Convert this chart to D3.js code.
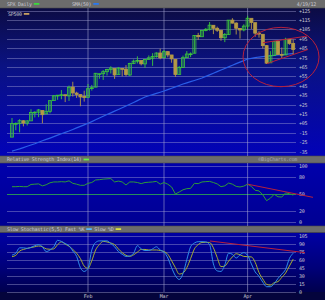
<!DOCTYPE html>
<meta charset="utf-8">
<style>
body { margin: 0; background: #03033a; }
svg { display: block; }
.txt { font-family: "DejaVu Sans Mono", monospace; font-size: 5px; fill: #c8c8d2; letter-spacing: -0.25px; }
.grid path { display: none; }
.grid line { stroke: #a0a0d4; stroke-opacity: 0.55; stroke-width: 0.8; shape-rendering: crispEdges; }
.grid text { font-family: "DejaVu Sans Mono", monospace; font-size: 5px; fill: #c8c8d2; letter-spacing: -0.25px; }
.bar { fill: #6c6c6c; stroke: #4a4a4a; stroke-width: 0.6; }
.anno { fill: none; stroke: #b8203c; stroke-width: 1; }
</style>
<body>
<div id="plotHere"></div>
<script src="https://cdn.jsdelivr.net/npm/d3@7"></script>
<script>
//------------------------ DATA ------------------------//
const dates = [
  "2012-01-03","2012-01-04","2012-01-05","2012-01-06","2012-01-09","2012-01-10","2012-01-11","2012-01-12","2012-01-13","2012-01-17",
  "2012-01-18","2012-01-19","2012-01-20","2012-01-23","2012-01-24","2012-01-25","2012-01-26","2012-01-27","2012-01-30","2012-01-31",
  "2012-02-01","2012-02-02","2012-02-03","2012-02-06","2012-02-07","2012-02-08","2012-02-09","2012-02-10","2012-02-13","2012-02-14",
  "2012-02-15","2012-02-16","2012-02-17","2012-02-21","2012-02-22","2012-02-23","2012-02-24","2012-02-27","2012-02-28","2012-02-29",
  "2012-03-01","2012-03-02","2012-03-05","2012-03-06","2012-03-07","2012-03-08","2012-03-09","2012-03-12","2012-03-13","2012-03-14",
  "2012-03-15","2012-03-16","2012-03-19","2012-03-20","2012-03-21","2012-03-22","2012-03-23","2012-03-26","2012-03-27","2012-03-28",
  "2012-03-29","2012-03-30","2012-04-02","2012-04-03","2012-04-04","2012-04-05","2012-04-09","2012-04-10","2012-04-11","2012-04-12",
  "2012-04-13","2012-04-16","2012-04-17","2012-04-18","2012-04-19"];

const opens = [
  1258.86,1277.03,1277.30,1280.93,1277.83,1280.77,1292.02,1292.48,1294.82,1290.22,
  1293.65,1308.07,1314.49,1315.29,1315.96,1314.40,1326.28,1318.25,1316.16,1313.53,
  1312.45,1324.24,1326.21,1344.32,1344.33,1347.04,1349.97,1351.21,1343.06,1351.30,
  1350.52,1342.61,1358.06,1361.22,1362.11,1357.53,1363.46,1365.20,1367.56,1372.20,
  1365.90,1374.09,1369.59,1363.63,1343.39,1352.65,1365.97,1370.78,1371.92,1395.95,
  1394.17,1402.55,1404.17,1409.59,1405.52,1402.89,1392.78,1397.11,1416.55,1412.52,
  1405.39,1403.31,1408.47,1418.98,1413.09,1398.79,1397.45,1382.18,1358.98,1368.77,
  1387.61,1370.27,1369.57,1390.78,1385.08];
const highs = [
  1284.62,1278.73,1283.05,1281.84,1281.99,1296.46,1293.80,1296.82,1294.82,1303.00,
  1308.11,1315.49,1315.38,1322.28,1315.96,1328.30,1333.47,1320.06,1316.16,1321.41,
  1330.52,1329.19,1345.34,1344.36,1349.24,1351.00,1354.32,1351.21,1353.35,1351.30,
  1355.87,1359.02,1363.40,1367.76,1362.70,1364.24,1368.92,1371.94,1373.09,1378.04,
  1376.17,1374.53,1369.59,1363.63,1354.85,1368.72,1374.76,1373.04,1396.13,1399.42,
  1402.63,1405.88,1414.00,1409.59,1407.75,1402.89,1399.18,1416.58,1419.15,1413.65,
  1405.39,1410.89,1422.38,1419.00,1413.09,1401.60,1397.45,1383.01,1374.71,1388.13,
  1387.61,1379.66,1392.76,1390.78,1390.46];
const lows = [
  1258.86,1268.10,1265.26,1273.34,1274.55,1280.77,1285.41,1285.77,1277.58,1290.22,
  1290.99,1308.07,1309.17,1309.89,1306.06,1307.65,1313.60,1311.72,1300.49,1306.69,
  1312.45,1321.57,1326.21,1337.52,1335.92,1341.95,1344.63,1337.35,1343.06,1340.83,
  1340.80,1341.22,1357.24,1358.11,1355.53,1352.28,1363.46,1354.92,1365.97,1363.81,
  1365.90,1366.42,1359.13,1340.03,1343.39,1352.65,1365.97,1366.69,1371.92,1389.97,
  1394.17,1401.47,1402.43,1397.68,1400.64,1388.73,1386.87,1397.11,1411.95,1397.20,
  1391.56,1401.42,1404.46,1404.62,1394.09,1392.92,1378.24,1357.38,1358.98,1368.77,
  1369.85,1365.38,1369.57,1383.29,1370.30];
const closes = [
  1277.06,1277.30,1281.06,1277.81,1280.70,1292.08,1292.48,1295.50,1289.09,1293.67,
  1308.04,1314.50,1315.38,1316.00,1314.65,1326.06,1318.43,1316.33,1313.01,1312.41,
  1324.09,1325.54,1344.90,1344.33,1347.05,1349.96,1351.95,1342.64,1351.77,1350.50,
  1343.23,1358.04,1361.23,1362.21,1357.66,1363.46,1365.74,1367.59,1372.18,1365.68,
  1374.09,1369.63,1364.33,1343.36,1352.63,1365.91,1370.87,1371.09,1395.95,1394.28,
  1402.60,1404.17,1409.75,1405.52,1402.89,1392.78,1397.11,1416.51,1412.52,1405.54,
  1403.28,1408.47,1419.04,1413.38,1398.96,1398.08,1382.20,1358.59,1368.71,1387.57,
  1370.26,1369.57,1390.78,1385.14,1376.92];

// 50 day moving average (blue)
const sma50 = [
  1240,1241.5,1243,1244.8,1246.5,1248.2,1250,1252,1254,1255.8,
  1257.6,1259.5,1261.5,1263.4,1265.2,1267.1,1269.2,1271.3,1273.4,1275.4,
  1277.5,1279.8,1282.2,1284.6,1287,1289.3,1291.6,1293.9,1296.2,1298.5,
  1300.8,1303.2,1305.6,1308.1,1310.5,1312.9,1314.6,1316.2,1317.8,1319.4,
  1321,1322.9,1324.8,1326.6,1328.5,1330.4,1332,1333.6,1335.2,1336.9,
  1338.5,1340.7,1342.8,1345,1347.1,1349.3,1351.4,1353.6,1355.7,1357.9,
  1360,1362,1364.1,1365,1365.9,1366.8,1367.3,1367.9,1368.4,1369,
  1369.5,1370,1370.5,1371,1371.5];

const rsi = [
  62.5,62.5,63,62.5,62.5,66.5,67,67.5,64,66,
  69.5,71,71,71.5,71,73,68.5,67,65,65,
  68.5,70,74.5,75,76,76.5,77,71,72.5,71,
  65.5,71,71,70,68,70,70.5,71,72,67,
  70,67,62,49.5,53,57,59,59.5,68.5,68,
  71,71.5,72,70,67.5,62.5,64,69,67,63,
  62,63.5,67,63,56,55,48,37.5,42,49,
  44.5,44,51.5,50,47.5];

const stochK = [
  68.5,72,82,82,81,83,86,88,84,75,
  78,84,96,94,90,86,76,66,45,38,
  44,78,92,95,95,95,90,84,75,70,
  66,67,72,86,80,77,77,80,84,78,
  74,63,45,30,23,34,60,84,91,93.5,
  93.5,93,88,52,39,38,50,72,70,63,
  69,73,68,52,37,29,18,9.5,9.5,15,
  25,33,42,62,72];
const stochD = [
  65.5,68,76,79,81,82.5,84,85.4,84,80,
  79.3,80,88,93,89,85,79,72,62,48,
  43.8,58,78,88,94,93,91,88,80,73,
  68,66,69,74,79,79,78,78,78,77,
  75,70,58,45,33,35,45,62,80,88,
  92,92.4,92,82,64,47,48,57,65,71,
  69,66,65.5,65,55,36,24,14,12.5,17,
  19,27,35,48,61];

const priceLabels = ["+125","+115","+105","+95","+85","+75","+65","+55",
                     "+45","+35","+25","+15","+05","-15","-25","-35"];
const rsiTicks = [0, 20, 50, 80, 100];
const stochTicks = [0, 15, 30, 45, 60, 75, 90, 105];
const monthDates = ["2012-02-01", "2012-03-01", "2012-04-02"];
const monthLabels = ["Feb", "Mar", "Apr"];

// hand drawn annotations, in (day index, value)
const priceUpper = [[66.0, 1386], [77.6, 1395]];
const priceLower = [[67.1, 1358], [77.9, 1377]];
const rsiTrend = [[62, 67], [79.2, 43.5]];
const stochTrend = [[52.1, 94.8], [77.1, 73]];

//------------------------ SETUP ------------------------//
const width = 325, height = 300;
const plotL = 7, plotR = 296;

const svg = d3.select("#plotHere").append("svg")
    .attr("width", width)
    .attr("height", height);

const defs = svg.append("defs");
function grad(id, stops) {
  const g = defs.append("linearGradient").attr("id", id)
      .attr("x1", 0).attr("y1", 0).attr("x2", 0).attr("y2", 1);
  stops.forEach(s => g.append("stop").attr("offset", s[0]).attr("stop-color", s[1]));
}
grad("gMain", [[0, "#0c0c44"], [0.4, "#0a1284"], [1, "#0202b8"]]);
grad("gRsi", [[0, "#0000ac"], [1, "#000092"]]);
grad("gSto", [[0, "#0000a4"], [0.6, "#000078"], [1, "#00004c"]]);

// scales
const x = d3.scaleLinear().domain([0, dates.length - 1]).range([12, 293.2]);
const y = d3.scaleLinear().domain([1239.5, 1429.5]).range([151.5, 10.5]);
const yGrid = d3.scalePoint().domain(priceLabels).range([10.5, 151.5]);
const yRsi = d3.scaleLinear().domain([0, 100]).range([221.7, 165.7]);
const ySto = d3.scaleLinear().domain([0, 105]).range([291.8, 235.5]);
const monthIdx = monthDates.map(d => dates.indexOf(d));

//------------------------ BACKGROUNDS ------------------------//
svg.append("rect").attr("x", 0).attr("y", 8).attr("width", width).attr("height", 148).attr("fill", "url(#gMain)");
svg.append("rect").attr("x", 0).attr("y", 163).attr("width", width).attr("height", 63).attr("fill", "url(#gRsi)");
svg.append("rect").attr("x", 0).attr("y", 232.5).attr("width", width).attr("height", 60).attr("fill", "url(#gSto)");
svg.append("rect").attr("x", 0).attr("y", 292).attr("width", width).attr("height", 8).attr("fill", "#04043c");

svg.append("rect").attr("class", "bar").attr("x", -1).attr("y", -1).attr("width", width + 2).attr("height", 9);
svg.append("rect").attr("class", "bar").attr("x", -1).attr("y", 156).attr("width", width + 2).attr("height", 7);
svg.append("rect").attr("class", "bar").attr("x", -1).attr("y", 226).attr("width", width + 2).attr("height", 6.5);

//------------------------ GRIDS / AXES ------------------------//
svg.append("g").attr("class", "grid")
    .attr("transform", "translate(" + plotL + ",0)")
    .call(d3.axisRight(yGrid).tickSize(plotR - plotL).tickPadding(3));

svg.append("g").attr("class", "grid")
    .attr("transform", "translate(" + plotL + ",0)")
    .call(d3.axisRight(yRsi).tickValues(rsiTicks).tickSize(plotR - plotL).tickPadding(3))
    .selectAll("line").filter(d => d === 50)
    .style("stroke", "#2fb04a").style("stroke-opacity", 1);

svg.append("g").attr("class", "grid")
    .attr("transform", "translate(" + plotL + ",0)")
    .call(d3.axisRight(ySto).tickValues(stochTicks).tickSize(plotR - plotL).tickPadding(3));

// month lines
[[8, 156], [163, 226], [232.5, 292]].forEach(r => {
  svg.append("g").selectAll("line").data(monthIdx).join("line")
      .attr("x1", d => x(d)).attr("x2", d => x(d))
      .attr("y1", r[0]).attr("y2", r[1])
      .attr("stroke", "#a8a8d0").attr("stroke-opacity", 0.7).attr("stroke-width", 0.8);
});
svg.append("g").selectAll("text").data(monthIdx).join("text")
    .attr("class", "txt")
    .attr("x", d => x(d)).attr("y", 298)
    .attr("text-anchor", "middle")
    .text((d, i) => monthLabels[i]);

//------------------------ PRICE ------------------------//
svg.append("path").datum(sma50)
    .attr("fill", "none").attr("stroke", "#2a5ee8").attr("stroke-width", 1.2)
    .attr("d", d3.line().x((d, i) => x(i)).y(d => y(d)));

const candles = svg.append("g").selectAll("g").data(d3.range(dates.length)).join("g");
const col = i => closes[i] >= opens[i] ? "#3cc83c" : "#b49a46";
candles.append("line")
    .attr("x1", i => x(i)).attr("x2", i => x(i))
    .attr("y1", i => y(highs[i])).attr("y2", i => y(lows[i]))
    .attr("stroke", col).attr("stroke-width", 0.9);
candles.append("rect")
    .attr("x", i => x(i) - 1.5).attr("width", 3)
    .attr("y", i => y(Math.max(opens[i], closes[i])))
    .attr("height", i => Math.max(0.8, Math.abs(y(opens[i]) - y(closes[i]))))
    .attr("fill", i => closes[i] >= opens[i] ? "none" : "#b49a46")
    .attr("stroke", col).attr("stroke-width", 0.8);

//------------------------ RSI ------------------------//
svg.append("path").datum(rsi)
    .attr("fill", "none").attr("stroke", "#2e9a3a").attr("stroke-width", 1)
    .attr("d", d3.line().x((d, i) => x(i)).y(d => yRsi(d)));

//------------------------ STOCHASTIC ------------------------//
svg.append("path").datum(stochD)
    .attr("fill", "none").attr("stroke", "#a8b030").attr("stroke-width", 1)
    .attr("d", d3.line().curve(d3.curveMonotoneX).x((d, i) => x(i)).y(d => ySto(d)));
svg.append("path").datum(stochK)
    .attr("fill", "none").attr("stroke", "#2f8ee8").attr("stroke-width", 1)
    .attr("d", d3.line().curve(d3.curveMonotoneX).x((d, i) => x(i)).y(d => ySto(d)));

//------------------------ ANNOTATIONS ------------------------//
const seg = (pts, sy) => d3.line().x(d => x(d[0])).y(d => sy(d[1]))(pts);
svg.append("path").attr("class", "anno").attr("d", seg(priceUpper, y));
svg.append("path").attr("class", "anno").attr("d", seg(priceLower, y));
svg.append("path").attr("class", "anno").attr("d", seg(rsiTrend, yRsi));
svg.append("path").attr("class", "anno").attr("d", seg(stochTrend, ySto));
svg.append("ellipse").attr("class", "anno")
    .attr("cx", x(70.8)).attr("cy", y(1366.8))
    .attr("rx", x(80.8) - x(70.8)).attr("ry", y(1366.8) - y(1406.8));

//------------------------ LEGENDS ------------------------//
// returns the x where the next item may start
function legend(tx, ty, label, color) {
  const t = svg.append("text").attr("class", "txt").attr("x", tx).attr("y", ty).text(label);
  const w = t.node().getComputedTextLength();
  if (color) svg.append("rect").attr("x", tx + w + 2).attr("y", ty - 2.8)
      .attr("width", 5.5).attr("height", 1.8).attr("fill", color);
  return tx + w + 10;
}
legend(7, 5.8, "SPX Daily", "#3cd83c");
legend(72, 5.8, "SMA(50)", "#2a78f0");
svg.append("text").attr("class", "txt").attr("x", 316).attr("y", 5.8)
    .attr("text-anchor", "end").text("4/19/12");
legend(8, 15.8, "SP500", "#c8a060");
legend(7, 161.4, "Relative Strength Index(14)", "#66ee44");
svg.append("text").attr("class", "txt").attr("x", 297).attr("y", 161.4)
    .attr("text-anchor", "end").style("fill", "#a8a8b0").text("©BigCharts.com");
const nx = legend(7, 231, "Slow Stochastic(5,5) Fast %K", "#5ab8f8");
legend(nx, 231, "Slow %D", "#d8e040");
</script>
</body>
